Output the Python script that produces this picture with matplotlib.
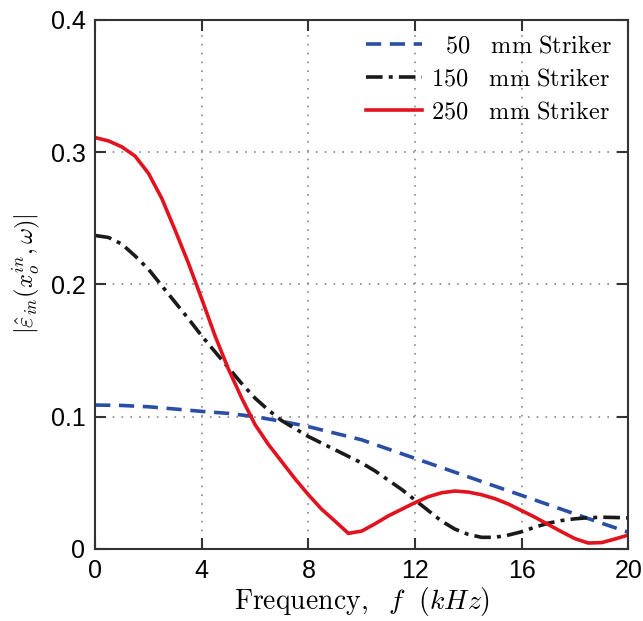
import numpy as np
import matplotlib
matplotlib.use("Agg")
import matplotlib.pyplot as plt

plt.rcParams['font.family'] = ['Liberation Sans', 'DejaVu Sans']
plt.rcParams['mathtext.fontset'] = 'cm'

# spectra of incident strain pulse, |eps_in(x, w)| vs frequency (kHz)
freq_fine = np.arange(0, 20.5, 0.5)
freq_coarse = np.arange(0, 21, 1)

eps_50 = [0.1088, 0.1085, 0.1075, 0.1058, 0.1040, 0.1025, 0.1000, 0.0965,
          0.0925, 0.0875, 0.0825, 0.0755, 0.0685, 0.0615, 0.0545, 0.0475,
          0.0405, 0.0335, 0.0265, 0.0195, 0.0127]

eps_150 = [0.237, 0.2355, 0.2305, 0.2215, 0.2115, 0.199, 0.1865, 0.174, 0.161,
           0.149, 0.137, 0.125, 0.114, 0.105, 0.097, 0.091, 0.085, 0.080,
           0.075, 0.070, 0.065, 0.059, 0.052, 0.045, 0.037, 0.029, 0.021,
           0.015, 0.011, 0.0088, 0.0088, 0.0105, 0.013, 0.0165, 0.0195,
           0.0215, 0.0228, 0.0236, 0.024, 0.0238, 0.0235]

eps_250 = [0.311, 0.3085, 0.304, 0.297, 0.284, 0.265, 0.241, 0.216, 0.189,
           0.161, 0.136, 0.114, 0.094, 0.079, 0.066, 0.053, 0.041, 0.030,
           0.021, 0.0118, 0.0135, 0.019, 0.025, 0.030, 0.035, 0.0395, 0.0425,
           0.0438, 0.043, 0.041, 0.038, 0.034, 0.029, 0.024, 0.0185, 0.013,
           0.0078, 0.0045, 0.0048, 0.0075, 0.0105]

labels = [r'$\ \ 50\ \ \ \mathrm{mm\ Striker}$',
          r'$150\ \ \ \mathrm{mm\ Striker}$',
          r'$250\ \ \ \mathrm{mm\ Striker}$']

fig = plt.figure(figsize=(6.43, 6.21), dpi=100)
ax = fig.add_axes([0.148, 0.116, 0.829, 0.852])

ax.plot(freq_coarse, eps_50, color='#2a4ea6', lw=2.6, dashes=(4.2, 2.4), label=labels[0])
ax.plot(freq_fine, eps_150, color='#1a1a1a', lw=2.6, dashes=(4.6, 1.7, 1.1, 1.7), label=labels[1])
ax.plot(freq_fine, eps_250, color='#e3121f', lw=2.6, label=labels[2])

ax.set_xlim(0, 20)
ax.set_ylim(0, 0.4)
ax.set_xticks(np.arange(0, 21, 4))
ax.set_yticks([0, 0.1, 0.2, 0.3, 0.4])
ax.set_yticklabels(['0', '0.1', '0.2', '0.3', '0.4'])
ax.grid(True, linestyle=(0, (1, 4.3)), color='#888888', lw=1.2)
ax.tick_params(direction='in', length=8, width=1.5, top=True, right=True,
               labelsize=18, pad=7, color='#333333')
for s in ax.spines.values():
    s.set_color('#333333')
    s.set_linewidth(1.5)

ax.set_xlabel(r'$\mathrm{Frequency,}\ \ f\ \ (kHz)$', fontsize=20, labelpad=2)
ax.set_ylabel(r'$|\hat{\varepsilon}_{in}(x_o^{in},\omega)|$', fontsize=17.5)
ax.yaxis.set_label_coords(-0.10, 0.52)

ax.legend(loc='upper right', frameon=False, fontsize=17.5, handlelength=2.3,
          handletextpad=0.4, labelspacing=0.45, borderaxespad=0.25)

fig.savefig('out.png', dpi=100)
